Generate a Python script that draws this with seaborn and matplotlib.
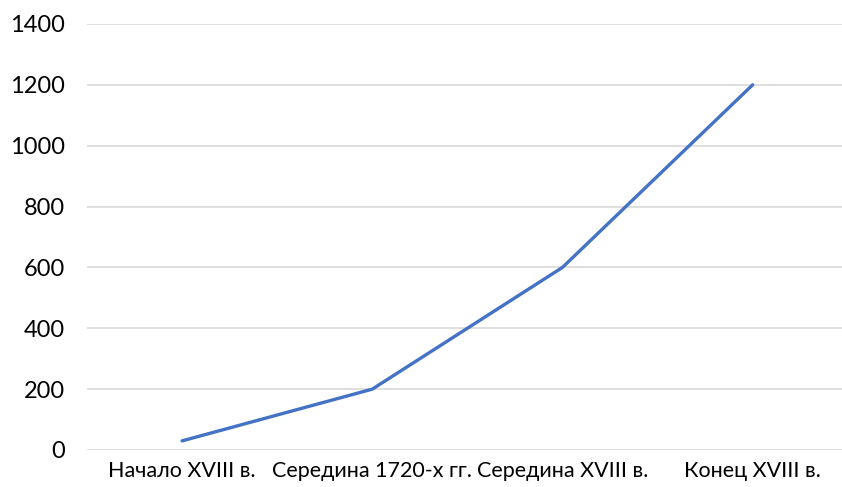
import seaborn as sns
import matplotlib.pyplot as plt
import pandas as pd

# values
periods = ['Начало XVIII в.', 'Середина 1720-х гг.', 'Середина XVIII в.', 'Конец XVIII в.']
values = [30, 200, 600, 1200]
y_ticks = [0, 200, 400, 600, 800, 1000, 1200, 1400]

sns.set_style('white')
plt.rcParams['font.family'] = ['Lato', 'DejaVu Sans']

df = pd.DataFrame({'period': periods, 'value': values})
df['pos'] = range(len(periods))

fig = plt.figure(figsize=(8.42, 4.87), dpi=100)
ax = fig.add_axes([87 / 842, 1 - 450 / 487, (842 - 87) / 842, (450 - 24) / 487])

sns.lineplot(data=df, x='pos', y='value', ax=ax, color='#4472C4', linewidth=2.4)

ax.set_xlim(-0.5, 3.47)
ax.set_ylim(0, 1400)
ax.set_yticks(y_ticks)
ax.set_xticks(df['pos'])
ax.set_xticklabels(periods)
ax.yaxis.grid(True, color='#D9D9D9', linewidth=1.2)
ax.set_axisbelow(True)
for s in ax.spines.values():
    s.set_visible(False)
ax.tick_params(axis='both', length=0, colors='#000000')
ax.tick_params(axis='y', pad=16, labelsize=17)
ax.tick_params(axis='x', pad=8, labelsize=15.5)
ax.set_xlabel('')
ax.set_ylabel('')

fig.savefig('out.png', dpi=100)
